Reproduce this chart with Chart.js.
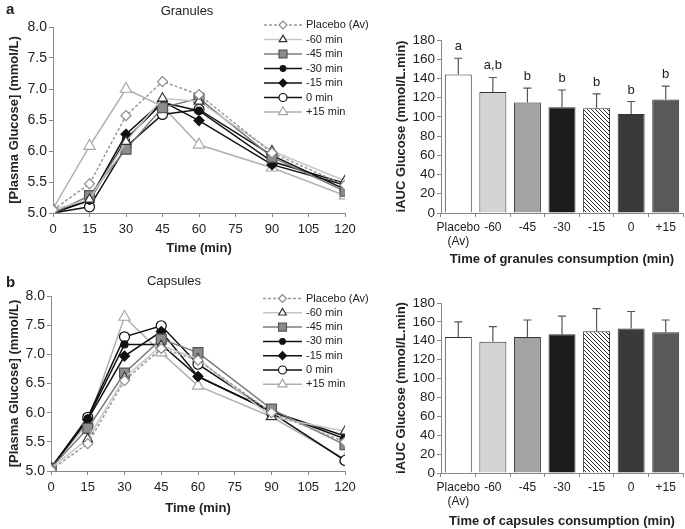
<!DOCTYPE html>
<html>
<head>
<meta charset="utf-8">
<script src="https://cdn.jsdelivr.net/npm/chart.js@4.4.1/dist/chart.umd.min.js"></script>
<style>
  body { margin: 0; background: #fff; width: 685px; height: 529px; position: relative; overflow: hidden; }
  canvas { position: absolute; }
</style>
</head>
<body>
<canvas id="lineA" width="370" height="262" style="left:0;top:0;width:370px;height:262px"></canvas>
<canvas id="lineB" width="370" height="267" style="left:0;top:262px;width:370px;height:267px"></canvas>
<canvas id="barA" width="315" height="268" style="left:370px;top:0;width:315px;height:268px"></canvas>
<canvas id="barB" width="315" height="261" style="left:370px;top:268px;width:315px;height:261px"></canvas>
<script>
// time points (min)
const times = [0, 15, 30, 45, 60, 90, 120];
const seriesNames = ['Placebo (Av)', '-60 min', '-45 min', '-30 min', '-15 min', '0 min', '+15 min'];

// panel a - granules, plasma glucose (mmol/L)
const granPlacebo = [5.05, 5.47, 6.57, 7.12, 6.91, 5.97, 5.45];
const granM60     = [5.05, 5.22, 6.15, 6.85, 6.80, 6.00, 5.52];
const granM45     = [5.00, 5.28, 6.03, 6.70, 6.85, 5.90, 5.35];
const granM30     = [5.00, 5.20, 6.19, 6.78, 6.65, 5.83, 5.48];
const granM15     = [5.00, 5.22, 6.27, 6.80, 6.49, 5.78, 5.45];
const gran0       = [5.00, 5.10, 6.07, 6.59, 6.67, 5.93, 5.38];
const granP15     = [5.07, 6.08, 7.00, 6.72, 6.10, 5.73, 5.28];

// panel b - capsules
const capsPlacebo = [5.02, 5.47, 6.55, 7.10, 6.90, 6.00, 5.50];
const capsM60     = [5.05, 5.55, 6.60, 7.15, 6.92, 5.93, 5.68];
const capsM45     = [5.05, 5.73, 6.68, 7.26, 7.03, 6.06, 5.45];
const capsM30     = [5.05, 5.90, 7.17, 7.17, 6.62, 6.02, 5.60];
const capsM15     = [5.05, 5.88, 6.97, 7.39, 6.62, 6.02, 5.55];
const caps0       = [5.05, 5.92, 7.30, 7.49, 6.83, 6.00, 5.18];
const capsP15     = [5.05, 5.83, 7.64, 7.03, 6.46, 5.93, 5.20];

// iAUC bars
const barLabels = [['Placebo', '(Av)'], '-60', '-45', '-30', '-15', '0', '+15'];
const granMeans = [144, 126, 115, 110, 109, 103, 118];
const granSD    = [17, 15, 15, 18, 15, 13, 14];
const granLetters = ['a', 'a,b', 'b', 'b', 'b', 'b', 'b'];
const capsMeans = [144, 139, 144, 147, 150, 153, 149];
const capsSD    = [16, 16, 18, 19, 24, 18, 13];

const FONT = "'Liberation Sans', Arial, sans-serif";
Chart.defaults.font.family = FONT;
Chart.defaults.color = '#222';
Chart.defaults.animation = false;

// look of each series (same order as seriesNames)
const styles = [
  { line: '#9a9a9a', dash: [3, 2], point: 'rectRot', r: 5, fill: '#fff', edge: '#8a8a8a' },
  { line: '#c6c6c6', dash: [], point: 'triangle', r: 5.5, fill: '#fff', edge: '#333' },
  { line: '#7c7c7c', dash: [], point: 'rect', r: 7, fill: '#8c8c8c', edge: '#555' },
  { line: '#111', dash: [], point: 'circle', r: 3.5, fill: '#111', edge: '#111' },
  { line: '#111', dash: [], point: 'rectRot', r: 5, fill: '#111', edge: '#111' },
  { line: '#111', dash: [], point: 'circle', r: 5, fill: '#fff', edge: '#111' },
  { line: '#b0b0b0', dash: [], point: 'triangle', r: 6.5, fill: '#fff', edge: '#a8a8a8' }
];

function makeDatasets(seriesList) {
  return seriesList.map((vals, i) => ({
    label: seriesNames[i],
    data: times.map((t, k) => ({ x: t, y: vals[k] })),
    borderColor: styles[i].line,
    borderDash: styles[i].dash,
    borderWidth: 1.5,
    pointStyle: styles[i].point,
    pointRadius: styles[i].r,
    pointBackgroundColor: styles[i].fill,
    pointBorderColor: styles[i].edge,
    pointBorderWidth: 1.2,
    tension: 0
  }));
}

// legend drawn inside the plot, top right
const lineLegend = {
  id: 'lineLegend',
  afterDraw(chart, args, opts) {
    const ctx = chart.ctx;
    ctx.save();
    chart.data.datasets.forEach((ds, i) => {
      const y = opts.y + i * opts.step;
      ctx.strokeStyle = ds.borderColor;
      ctx.lineWidth = 1.5;
      ctx.setLineDash(ds.borderDash);
      ctx.beginPath();
      ctx.moveTo(opts.x1, y);
      ctx.lineTo(opts.x2, y);
      ctx.stroke();
      ctx.setLineDash([]);
      ctx.fillStyle = ds.pointBackgroundColor;
      ctx.strokeStyle = ds.pointBorderColor;
      ctx.lineWidth = 1.2;
      Chart.helpers.drawPoint(ctx, { pointStyle: ds.pointStyle, radius: ds.pointRadius * 0.8, borderWidth: 1.2, rotation: 0 }, (opts.x1 + opts.x2) / 2, y);
      ctx.fillStyle = '#222';
      ctx.font = '11px ' + FONT;
      ctx.textBaseline = 'middle';
      ctx.textAlign = 'left';
      ctx.fillText(ds.label, opts.x2 + 4, y);
    });
    ctx.restore();
  }
};

const panelText = {
  id: 'panelText',
  afterDraw(chart, args, opts) {
    const ctx = chart.ctx;
    ctx.save();
    ctx.fillStyle = '#222';
    ctx.textBaseline = 'middle';
    (opts.items || []).forEach(t => {
      ctx.font = t.font;
      ctx.textAlign = t.align || 'left';
      ctx.fillText(t.text, t.x, t.y);
    });
    ctx.restore();
  }
};

const errorBars = {
  id: 'errorBars',
  afterDatasetsDraw(chart, args, opts) {
    const ctx = chart.ctx;
    const meta = chart.getDatasetMeta(0);
    const yScale = chart.scales.y;
    const vals = chart.data.datasets[0].data;
    ctx.save();
    ctx.strokeStyle = '#555';
    ctx.lineWidth = 1.2;
    meta.data.forEach((bar, i) => {
      const top = yScale.getPixelForValue(vals[i] + opts.sd[i]);
      ctx.beginPath();
      ctx.moveTo(bar.x, bar.y);
      ctx.lineTo(bar.x, top);
      ctx.moveTo(bar.x - 4, top);
      ctx.lineTo(bar.x + 4, top);
      ctx.stroke();
      if (opts.letters) {
        ctx.fillStyle = '#222';
        ctx.font = '13px ' + FONT;
        ctx.textAlign = 'center';
        ctx.textBaseline = 'alphabetic';
        ctx.fillText(opts.letters[i], bar.x, top - 8);
      }
    });
    ctx.restore();
  }
};

function lineChart(id, seriesList, cfg) {
  return new Chart(document.getElementById(id), {
    type: 'line',
    data: { datasets: makeDatasets(seriesList) },
    plugins: [lineLegend, panelText],
    options: {
      responsive: false,
      layout: { padding: { top: cfg.top, right: 25, left: 0, bottom: 0 } },
      plugins: {
        legend: { display: false },
        tooltip: { enabled: false },
        lineLegend: cfg.legend,
        panelText: { items: cfg.texts }
      },
      scales: {
        x: {
          type: 'linear', min: 0, max: 120,
          ticks: { stepSize: 15, font: { size: 13 }, padding: 5, color: '#222', autoSkip: false },
          grid: { drawOnChartArea: false, tickLength: 4, color: '#888' },
          border: { color: '#888', width: 1 },
          title: { display: true, text: 'Time (min)', font: { size: 13, weight: 'bold' }, padding: { top: 0, bottom: cfg.xTitlePad } },
          afterFit: s => { s.height = cfg.xHeight; }
        },
        y: {
          min: 5, max: 8,
          ticks: { stepSize: 0.5, font: { size: 14 }, padding: 2, color: '#222', autoSkip: false, callback: v => v.toFixed(1) },
          grid: { drawOnChartArea: false, tickLength: 4, color: '#888' },
          border: { color: '#888', width: 1 },
          title: { display: true, text: '[Plasma Glucose] (mmol/L)', font: { size: 13, weight: 'bold' }, padding: { top: 7, bottom: 0 } },
          afterFit: s => { s.width = cfg.yWidth; }
        }
      }
    }
  });
}

function hatchPattern() {
  const c = document.createElement('canvas');
  c.width = 4; c.height = 4;
  const g = c.getContext('2d');
  g.fillStyle = '#fff';
  g.fillRect(0, 0, 4, 4);
  g.strokeStyle = '#2a2a2a';
  g.lineWidth = 1;
  g.beginPath();
  g.moveTo(-1, -1); g.lineTo(5, 5);
  g.moveTo(-1, 3); g.lineTo(1, 5);
  g.moveTo(3, -1); g.lineTo(5, 1);
  g.stroke();
  return g.createPattern(c, 'repeat');
}

function barChart(id, means, sd, letters, cfg) {
  const fills = ['#ffffff', '#d4d4d4', '#a3a3a3', '#1c1c1c', hatchPattern(), '#3a3a3a', '#595959'];
  return new Chart(document.getElementById(id), {
    type: 'bar',
    data: {
      labels: barLabels,
      datasets: [{ data: means, backgroundColor: fills, borderColor: '#333', borderWidth: 1, categoryPercentage: 1, barPercentage: 0.78 }]
    },
    plugins: [errorBars],
    options: {
      responsive: false,
      layout: { padding: { top: cfg.top, right: 2, left: 0, bottom: 0 } },
      plugins: {
        legend: { display: false },
        tooltip: { enabled: false },
        errorBars: { sd: sd, letters: letters }
      },
      scales: {
        x: {
          ticks: { font: { size: 12 }, padding: 3, color: '#222', maxRotation: 0, autoSkip: false },
          grid: { drawOnChartArea: false, offset: true, tickLength: 4, color: '#888' },
          border: { color: '#888', width: 1 },
          title: { display: true, text: cfg.xTitle, font: { size: 13, weight: 'bold' }, padding: { top: 0, bottom: cfg.xTitlePad } },
          afterFit: s => { s.height = cfg.xHeight; }
        },
        y: {
          min: 0, max: 180,
          ticks: { stepSize: 20, font: { size: 13.5 }, padding: 2, color: '#222', autoSkip: false },
          grid: { drawOnChartArea: false, tickLength: 4, color: '#888' },
          border: { color: '#888', width: 1 },
          title: { display: true, text: 'iAUC Glucose (mmol/L.min)', font: { size: 13, weight: 'bold' }, padding: { top: 24, bottom: 0 } },
          afterFit: s => { s.width = 71; }
        }
      }
    }
  });
}

lineChart('lineA', [granPlacebo, granM60, granM45, granM30, granM15, gran0, granP15], {
  top: 27, yWidth: 53, xHeight: 49, xTitlePad: 6,
  legend: { x1: 264, x2: 302, y: 25, step: 14.5 },
  texts: [
    { text: 'a', x: 6, y: 10, font: 'bold 15px ' + FONT },
    { text: 'Granules', x: 187, y: 11, font: '13px ' + FONT, align: 'center' }
  ]
});

lineChart('lineB', [capsPlacebo, capsM60, capsM45, capsM30, capsM15, caps0, capsP15], {
  top: 34, yWidth: 51, xHeight: 58, xTitlePad: 13,
  legend: { x1: 263, x2: 302, y: 36.5, step: 14.3 },
  texts: [
    { text: 'b', x: 6, y: 21, font: 'bold 15px ' + FONT },
    { text: 'Capsules', x: 174, y: 19, font: '13px ' + FONT, align: 'center' }
  ]
});

barChart('barA', granMeans, granSD, granLetters, {
  top: 40, xHeight: 55, xTitlePad: 1, xTitle: 'Time of granules consumption (min)'
});

barChart('barB', capsMeans, capsSD, null, {
  top: 35, xHeight: 56, xTitlePad: 0, xTitle: 'Time of capsules consumption (min)'
});
</script>
</body>
</html>
